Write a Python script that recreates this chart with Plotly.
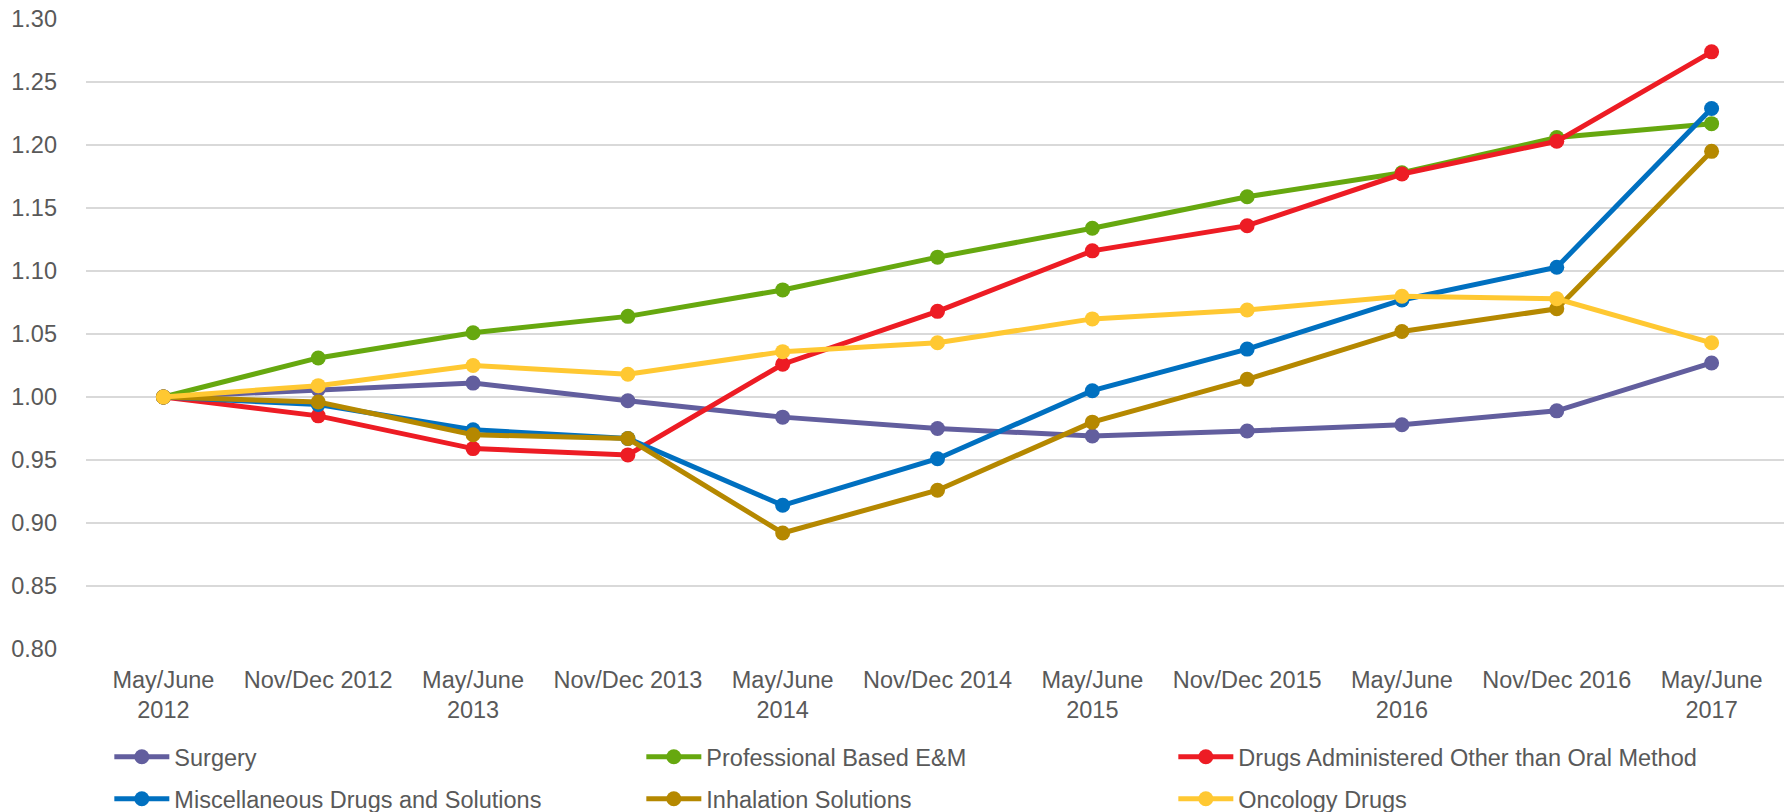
import plotly.graph_objects as go

categories = ["May/June<br>2012", "Nov/Dec 2012", "May/June<br>2013", "Nov/Dec 2013",
              "May/June<br>2014", "Nov/Dec 2014", "May/June<br>2015", "Nov/Dec 2015",
              "May/June<br>2016", "Nov/Dec 2016", "May/June<br>2017"]

y_ticks = [0.80, 0.85, 0.90, 0.95, 1.00, 1.05, 1.10, 1.15, 1.20, 1.25, 1.30]
y_tick_labels = ["0.80", "0.85", "0.90", "0.95", "1.00", "1.05", "1.10", "1.15", "1.20", "1.25", "1.30"]

surgery = [1.000, 1.006, 1.011, 0.997, 0.984, 0.975, 0.969, 0.973, 0.978, 0.989, 1.027]
professional_em = [1.000, 1.031, 1.051, 1.064, 1.085, 1.111, 1.134, 1.159, 1.178, 1.206, 1.217]
drugs_non_oral = [1.000, 0.985, 0.959, 0.954, 1.026, 1.068, 1.116, 1.136, 1.177, 1.203, 1.274]
misc_drugs = [1.000, 0.994, 0.974, 0.967, 0.914, 0.951, 1.005, 1.038, 1.077, 1.103, 1.229]
inhalation = [1.000, 0.996, 0.970, 0.967, 0.892, 0.926, 0.980, 1.014, 1.052, 1.070, 1.195]
oncology = [1.000, 1.009, 1.025, 1.018, 1.036, 1.043, 1.062, 1.069, 1.080, 1.078, 1.043]

series = [
    ("Surgery", surgery, "#625E9E", "legend"),
    ("Professional Based E&M", professional_em, "#66A80F", "legend"),
    ("Drugs Administered Other than Oral Method", drugs_non_oral, "#ED1C24", "legend"),
    ("Miscellaneous Drugs and Solutions", misc_drugs, "#0070C0", "legend2"),
    ("Inhalation Solutions", inhalation, "#B58800", "legend2"),
    ("Oncology Drugs", oncology, "#FFC832", "legend2"),
]

FONT = "Liberation Sans, Arial, sans-serif"
TXT = "#595959"

fig = go.Figure()
for name, vals, col, lg in series:
    fig.add_trace(go.Scatter(
        x=categories, y=vals, name=name, mode="lines+markers",
        line=dict(color=col, width=5),
        marker=dict(color=col, size=15, line=dict(width=0)),
        legend=lg, cliponaxis=False,
    ))

legend_common = dict(
    orientation="h", xanchor="left", yanchor="top",
    entrywidth=462, entrywidthmode="pixels", itemwidth=55,
    font=dict(family=FONT, size=23.5, color=TXT),
    itemclick=False, bgcolor="rgba(0,0,0,0)",
)

fig.update_layout(
    width=1784, height=804,
    margin=dict(l=78, r=3, t=11, b=163, autoexpand=False),
    paper_bgcolor="white", plot_bgcolor="white",
    font=dict(family=FONT, size=23.5, color=TXT),
    showlegend=True,
    legend=dict(x=0.0137, y=-0.1365, **legend_common),
    legend2=dict(x=0.0137, y=-0.2032, **legend_common),
    xaxis=dict(
        type="category", range=[-0.5, len(categories) - 0.5],
        showgrid=False, zeroline=False, showline=False,
        ticks="", tickfont=dict(family=FONT, size=23.5, color=TXT),
        tickangle=0, ticklabelstandoff=14, automargin=False,
    ),
    yaxis=dict(
        range=[0.7999, 1.3001], tickmode="array",
        tickvals=y_ticks, ticktext=y_tick_labels,
        showgrid=True, gridcolor="#D9D9D9", gridwidth=1.5,
        zeroline=False, showline=False, ticks="",
        tickfont=dict(family=FONT, size=23.5, color=TXT),
        ticklabelstandoff=28, automargin=False,
        ticklabeloverflow="allow",
    ),
)

fig.write_html("out.html")
